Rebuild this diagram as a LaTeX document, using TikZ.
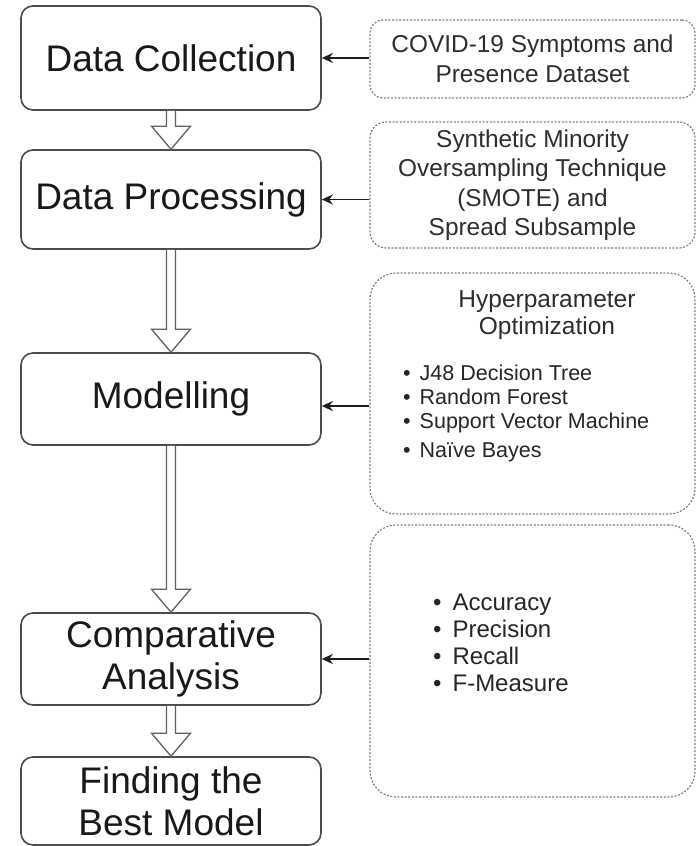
\documentclass[tikz,border=0pt]{standalone}
\usepackage{fontspec}
\setmainfont{Liberation Sans}
\usetikzlibrary{arrows.meta,calc}
\begin{document}
\begin{tikzpicture}[x=1pt,y=-1pt,
  stage/.style={draw=black!70, line width=1.6pt, rounded corners=12pt, fill=white,
    inner sep=0pt, minimum width=300pt, align=center,
    font=\fontsize{37}{42}\selectfont, text=black!90},
  src/.style={draw=black!50, line width=1.2pt, dash pattern=on 2pt off 1.6pt,
    inner sep=0pt, minimum width=325pt, align=center,
    font=\fontsize{24.4}{29.5}\selectfont, text=black!82},
  hdr/.style={inner sep=0pt, anchor=base, font=\fontsize{24.5}{29}\selectfont, text=black!82},
  item/.style={inner sep=0pt, anchor=base west, font=\fontsize{21.5}{26}\selectfont, text=black!85},
  metric/.style={inner sep=0pt, anchor=base west, font=\fontsize{24}{28}\selectfont, text=black!85},
  barrow/.style={draw=black!62, fill=white, line width=1.3pt, line join=miter},
  feed/.style={draw=black!88, line width=1.9pt, -{Stealth[length=11pt,width=10pt]}}
]
\useasboundingbox (0,0) rectangle (696,846);
\fill[white] (0,0) rectangle (696,846);

% right-hand source boxes
\node[src, rounded corners=13pt, minimum height=78pt] (dsrc) at (532.5,59)
  {COVID-19 Symptoms and\\Presence Dataset};
\node[src, rounded corners=16pt, minimum height=126pt] (psrc) at (532.5,185)
  {Synthetic Minority\\Oversampling Technique\\(SMOTE) and\\Spread Subsample};
\node[src, rounded corners=26pt, minimum height=241pt] (msrc) at (532.5,393.5) {};
\node[src, rounded corners=26pt, minimum height=272pt] (esrc) at (532.5,661) {};

\node[hdr] (hp1) at (547,307) {Hyperparameter};
\node[hdr] (hp2) at (547,334) {Optimization};
\node[item] (m1) at (403,380) {•\hspace{9pt}J48 Decision Tree};
\node[item] (m2) at (403,404) {•\hspace{9pt}Random Forest};
\node[item] (m3) at (403,428) {•\hspace{9pt}Support Vector Machine};
\node[item] (m4) at (403,457) {•\hspace{9pt}Naïve Bayes};

\node[metric] (e1) at (433,610) {•\hspace{11pt}Accuracy};
\node[metric] (e2) at (433,637) {•\hspace{11pt}Precision};
\node[metric] (e3) at (433,664) {•\hspace{11pt}Recall};
\node[metric] (e4) at (433,691) {•\hspace{11pt}F-Measure};

% left-hand stages
\node[stage, minimum height=104pt] (dc) at (171,58) {Data Collection};
\node[stage, minimum height=99pt] (dp) at (171,199.5) {Data Processing};
\node[stage, minimum height=92pt] (mo) at (171,399) {Modelling};
\node[stage, minimum height=92pt] (ca) at (171,659) {Comparative\\Analysis};
\node[stage, minimum height=88pt] (fb) at (171,801) {Finding the\\Best Model};

% block arrows
\newcommand\blockarrow[2]{%
  \draw[barrow] let \p1=(#1.south), \p2=(#2.north) in
    (\x1-4.5pt,\y1) -- (\x1-4.5pt,\y2+23pt) -- (\x1-19.5pt,\y2+23pt) --
    (\x2,\y2) -- (\x1+19.5pt,\y2+23pt) -- (\x1+4.5pt,\y2+23pt) -- (\x1+4.5pt,\y1);}
\blockarrow{dc}{dp}
\blockarrow{dp}{mo}
\blockarrow{mo}{ca}
\blockarrow{ca}{fb}

% feeds from right to left
\coordinate (moin) at ([yshift=-7pt]mo.east);
\draw[feed] (dsrc.west |- dc.east) -- (dc.east);
\draw[feed] (psrc.west |- dp.east) -- (dp.east);
\draw[feed] (msrc.west |- moin) -- (moin);
\draw[feed] (esrc.west |- ca.east) -- (ca.east);
\end{tikzpicture}
\end{document}
